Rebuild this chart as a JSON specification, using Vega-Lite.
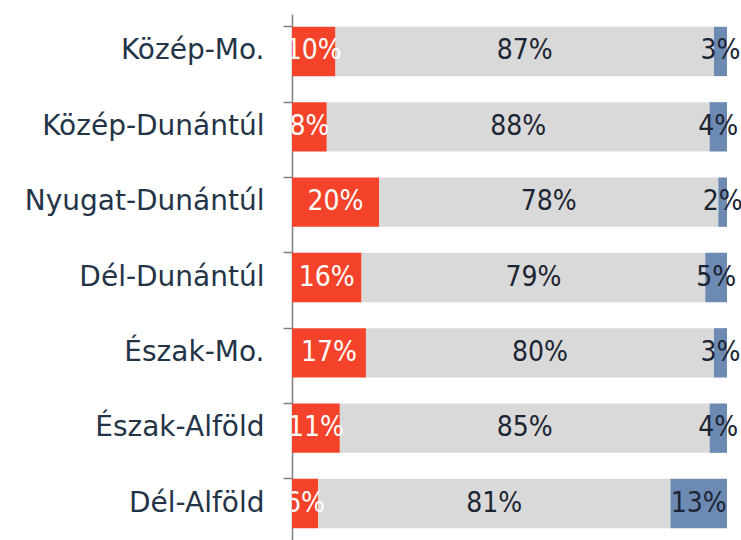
{
  "$schema": "https://vega.github.io/schema/vega-lite/v6.json",
  "width": 435,
  "height": 527,
  "autosize": {"type": "none"},
  "padding": {"left": 292, "top": 14, "right": 14, "bottom": 0},
  "background": "white",
  "config": {"view": {"stroke": null}},
  "data": {"values": [
    {"region": "Közép-Mo.", "cat": "a", "ord": 1, "value": 10},
    {"region": "Közép-Mo.", "cat": "b", "ord": 2, "value": 87},
    {"region": "Közép-Mo.", "cat": "c", "ord": 3, "value": 3},
    {"region": "Közép-Dunántúl", "cat": "a", "ord": 1, "value": 8},
    {"region": "Közép-Dunántúl", "cat": "b", "ord": 2, "value": 88},
    {"region": "Közép-Dunántúl", "cat": "c", "ord": 3, "value": 4},
    {"region": "Nyugat-Dunántúl", "cat": "a", "ord": 1, "value": 20},
    {"region": "Nyugat-Dunántúl", "cat": "b", "ord": 2, "value": 78},
    {"region": "Nyugat-Dunántúl", "cat": "c", "ord": 3, "value": 2},
    {"region": "Dél-Dunántúl", "cat": "a", "ord": 1, "value": 16},
    {"region": "Dél-Dunántúl", "cat": "b", "ord": 2, "value": 79},
    {"region": "Dél-Dunántúl", "cat": "c", "ord": 3, "value": 5},
    {"region": "Észak-Mo.", "cat": "a", "ord": 1, "value": 17},
    {"region": "Észak-Mo.", "cat": "b", "ord": 2, "value": 80},
    {"region": "Észak-Mo.", "cat": "c", "ord": 3, "value": 3},
    {"region": "Észak-Alföld", "cat": "a", "ord": 1, "value": 11},
    {"region": "Észak-Alföld", "cat": "b", "ord": 2, "value": 85},
    {"region": "Észak-Alföld", "cat": "c", "ord": 3, "value": 4},
    {"region": "Dél-Alföld", "cat": "a", "ord": 1, "value": 6},
    {"region": "Dél-Alföld", "cat": "b", "ord": 2, "value": 81},
    {"region": "Dél-Alföld", "cat": "c", "ord": 3, "value": 13}
  ]},
  "transform": [
    {"stack": "value", "groupby": ["region"], "sort": [{"field": "ord", "order": "ascending"}], "as": ["v0", "v1"]},
    {"calculate": "(datum.v0 + datum.v1) / 2", "as": "mid"},
    {"calculate": "datum.value + '%'", "as": "label"}
  ],
  "encoding": {
    "y": {
      "field": "region", "type": "nominal", "sort": null,
      "scale": {"paddingInner": 0.345, "paddingOuter": 0.17}
    }
  },
  "layer": [
    {
      "mark": {"type": "bar"},
      "encoding": {
        "y": {
          "field": "region", "type": "nominal", "sort": null,
          "axis": {
            "title": null, "orient": "left", "domain": false, "ticks": false,
            "labelFont": "DejaVu Sans", "labelFontSize": 28,
            "labelColor": "#243447", "labelPadding": 28, "labelLimit": 300
          }
        },
        "x": {"field": "v0", "type": "quantitative", "scale": {"domain": [0, 100], "nice": false}, "axis": null},
        "x2": {"field": "v1"},
        "color": {
          "field": "cat", "type": "nominal", "legend": null,
          "scale": {"domain": ["a", "b", "c"], "range": ["#F5432B", "#D9D9D9", "#6D8AB3"]}
        }
      }
    },
    {
      "mark": {"type": "rule", "opacity": 0},
      "encoding": {
        "y": {
          "field": "region", "type": "nominal", "sort": null,
          "axis": {
            "title": null, "orient": "left", "labels": false, "bandPosition": 0,
            "domain": true, "domainColor": "#7F7F7F", "domainWidth": 1.5,
            "ticks": true, "tickColor": "#7F7F7F", "tickSize": 9, "tickWidth": 1.5
          }
        }
      }
    },
    {
      "transform": [{"filter": "datum.cat == 'a'"}],
      "mark": {"type": "text", "font": "DejaVu Sans Condensed", "fontSize": 28, "color": "white", "align": "center", "baseline": "middle", "clip": true},
      "encoding": {
        "y": {"field": "region", "type": "nominal", "sort": null, "axis": null},
        "x": {"field": "mid", "type": "quantitative"},
        "text": {"field": "label"}
      }
    },
    {
      "transform": [{"filter": "datum.cat != 'a'"}],
      "mark": {"type": "text", "font": "DejaVu Sans Condensed", "fontSize": 28, "color": "#1C2533", "align": "center", "baseline": "middle"},
      "encoding": {
        "y": {"field": "region", "type": "nominal", "sort": null, "axis": null},
        "x": {"field": "mid", "type": "quantitative"},
        "text": {"field": "label"}
      }
    }
  ],
  "resolve": {"axis": {"y": "independent"}}
}
